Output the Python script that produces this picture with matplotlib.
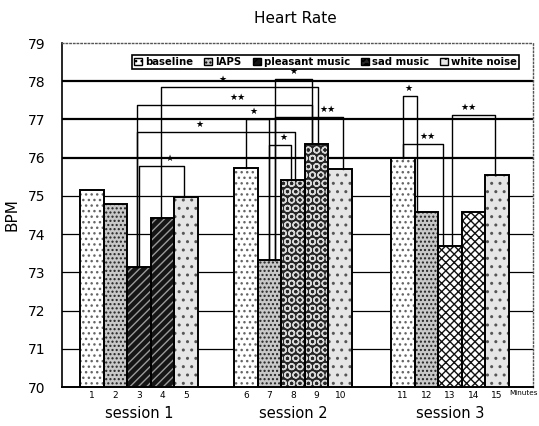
import matplotlib
matplotlib.use('Agg')
import matplotlib.pyplot as plt
from matplotlib.patches import Patch

# data
minutes = list(range(1, 16))
bpm = [75.15, 74.80, 73.13, 74.41, 74.97,
       75.73, 73.32, 75.41, 76.35, 75.70,
       75.99, 74.57, 73.69, 74.57, 75.54]
conditions = ['baseline', 'IAPS', 'pleasant music', 'sad music', 'white noise']
sessions = ['session 1', 'session 2', 'session 3']
# significance brackets: (from minute, to minute, level in BPM, label)
brackets = [(3, 5, 75.78, '★'), (3, 8, 76.68, '★'), (3, 9, 77.39, '★★'),
            (4, 9, 77.85, '★'), (7, 9, 78.05, '★'), (6, 7, 77.00, '★'),
            (7, 8, 76.33, '★'), (7, 10, 77.07, '★★'),
            (11, 12, 77.62, '★'), (11, 13, 76.35, '★★'), (13, 15, 77.12, '★★')]

# layout / styling
group_left = [0.0, 6.53, 13.18]
pos = [group_left[(m - 1) // 5] + (m - 1) % 5 + 0.5 for m in minutes]
end_off = {(3, 5): (0, -0.1), (3, 8): (-0.08, 0.08), (3, 9): (-0.08, -0.2), (4, 9): (-0.07, 0.05),
           (7, 9): (0.23, -0.2), (6, 7): (0, 0), (7, 8): (0, -0.1), (7, 10): (0.23, 0.1),
           (11, 12): (0, -0.4), (11, 13): (0, -0.3), (13, 15): (0.08, -0.1)}
star_x = {(3, 5): 169, (3, 8): 199, (3, 9): 238, (4, 9): 222, (7, 9): 293, (6, 7): 253,
          (7, 8): 283, (7, 10): 328, (11, 12): 408, (11, 13): 427, (13, 15): 468}
styles = {'baseline': ('white', '#666666', '...'),
          'IAPS': ('#c8c8c8', '#222222', '....'),
          'pleasant music': ('#151515', '#9a9a9a', '////'),
          'sad music': ('#262626', '#d8d8d8', 'OO'),
          'music 3': ('white', '#111111', 'xxxx'),
          'white noise': ('#e6e6e6', '#555555', '..')}
bar_style = ['baseline', 'IAPS', 'pleasant music', 'pleasant music', 'white noise',
             'baseline', 'IAPS', 'sad music', 'sad music', 'white noise',
             'baseline', 'IAPS', 'music 3', 'music 3', 'white noise']

plt.rcParams['hatch.linewidth'] = 1.0
fig = plt.figure(figsize=(5.39, 4.26), dpi=100)
ax = fig.add_axes([0.115, 0.0915, 0.874, 0.8075])
ax.set_xlim(-0.76, 19.2); ax.set_ylim(70, 79)

for y in range(71, 79):
    ax.axhline(y, color='black', lw=1.6 if y in (76, 77, 78) else 0.9, zorder=1)

for p, v, s in zip(pos, bpm, bar_style):
    face, hc, hatch = styles[s]
    ax.bar(p, v, width=1, color=face, edgecolor=hc, hatch=hatch, linewidth=0, zorder=2)
    ax.bar(p, v, width=1, fill=False, edgecolor='black', linewidth=1.4, zorder=3)

px = 471 / 19.96  # pixels per x unit
for a, b, lvl, lab in brackets:
    oa, ob = end_off[(a, b)]
    xa, xb = pos[a - 1] + oa, pos[b - 1] + ob
    ax.plot([xa, xa, xb, xb], [bpm[a - 1], lvl, lvl, bpm[b - 1]], color='black', lw=1.0, zorder=4)
    sx = -0.76 + (star_x[(a, b)] - 62) / px
    ax.text(sx, lvl + 0.08, lab, ha='center', va='bottom', fontsize=6.5, zorder=5)

ax.set_yticks(range(70, 80))
ax.set_yticklabels([str(t) for t in range(70, 80)], fontsize=10)
ax.tick_params(axis='y', length=0, pad=12)
ax.set_xticks(pos)
ax.set_xticklabels([str(m) for m in minutes], fontsize=6.5)
ax.tick_params(axis='x', length=0, pad=3)
ax.text(pos[-1] + 0.5, -0.009, 'Minutes', transform=ax.get_xaxis_transform(), ha='left', va='top', fontsize=5.2)
for i, s in enumerate(sessions):
    ax.text(group_left[i] + 2.5, -0.055, s, transform=ax.get_xaxis_transform(), ha='center', va='top', fontsize=10.5)

for sp in ('top', 'right'):
    ax.spines[sp].set_linestyle(':'); ax.spines[sp].set_color('#555555'); ax.spines[sp].set_linewidth(1.0)
ax.spines['left'].set_linewidth(1.2); ax.spines['bottom'].set_linewidth(1.4)

ax.set_ylabel('BPM', fontsize=11, labelpad=6)
fig.text(0.548, 0.957, 'Heart Rate', ha='center', va='center', fontsize=11)

handles = [Patch(facecolor=styles[c][0], edgecolor='black', hatch=styles[c][2]) for c in conditions]
leg = ax.legend(handles, conditions, ncol=5, loc='upper left', bbox_to_anchor=(0.148, 0.965),
                prop={'weight': 'bold', 'size': 7.3}, frameon=True, fancybox=False,
                handlelength=0.8, handleheight=0.8, handletextpad=0.3, columnspacing=1.1,
                borderpad=0.2, borderaxespad=0)
leg.get_frame().set_edgecolor('black'); leg.get_frame().set_linewidth(1.2); leg.get_frame().set_alpha(1)
leg.set_zorder(6)

fig.savefig('out.png', dpi=100)
